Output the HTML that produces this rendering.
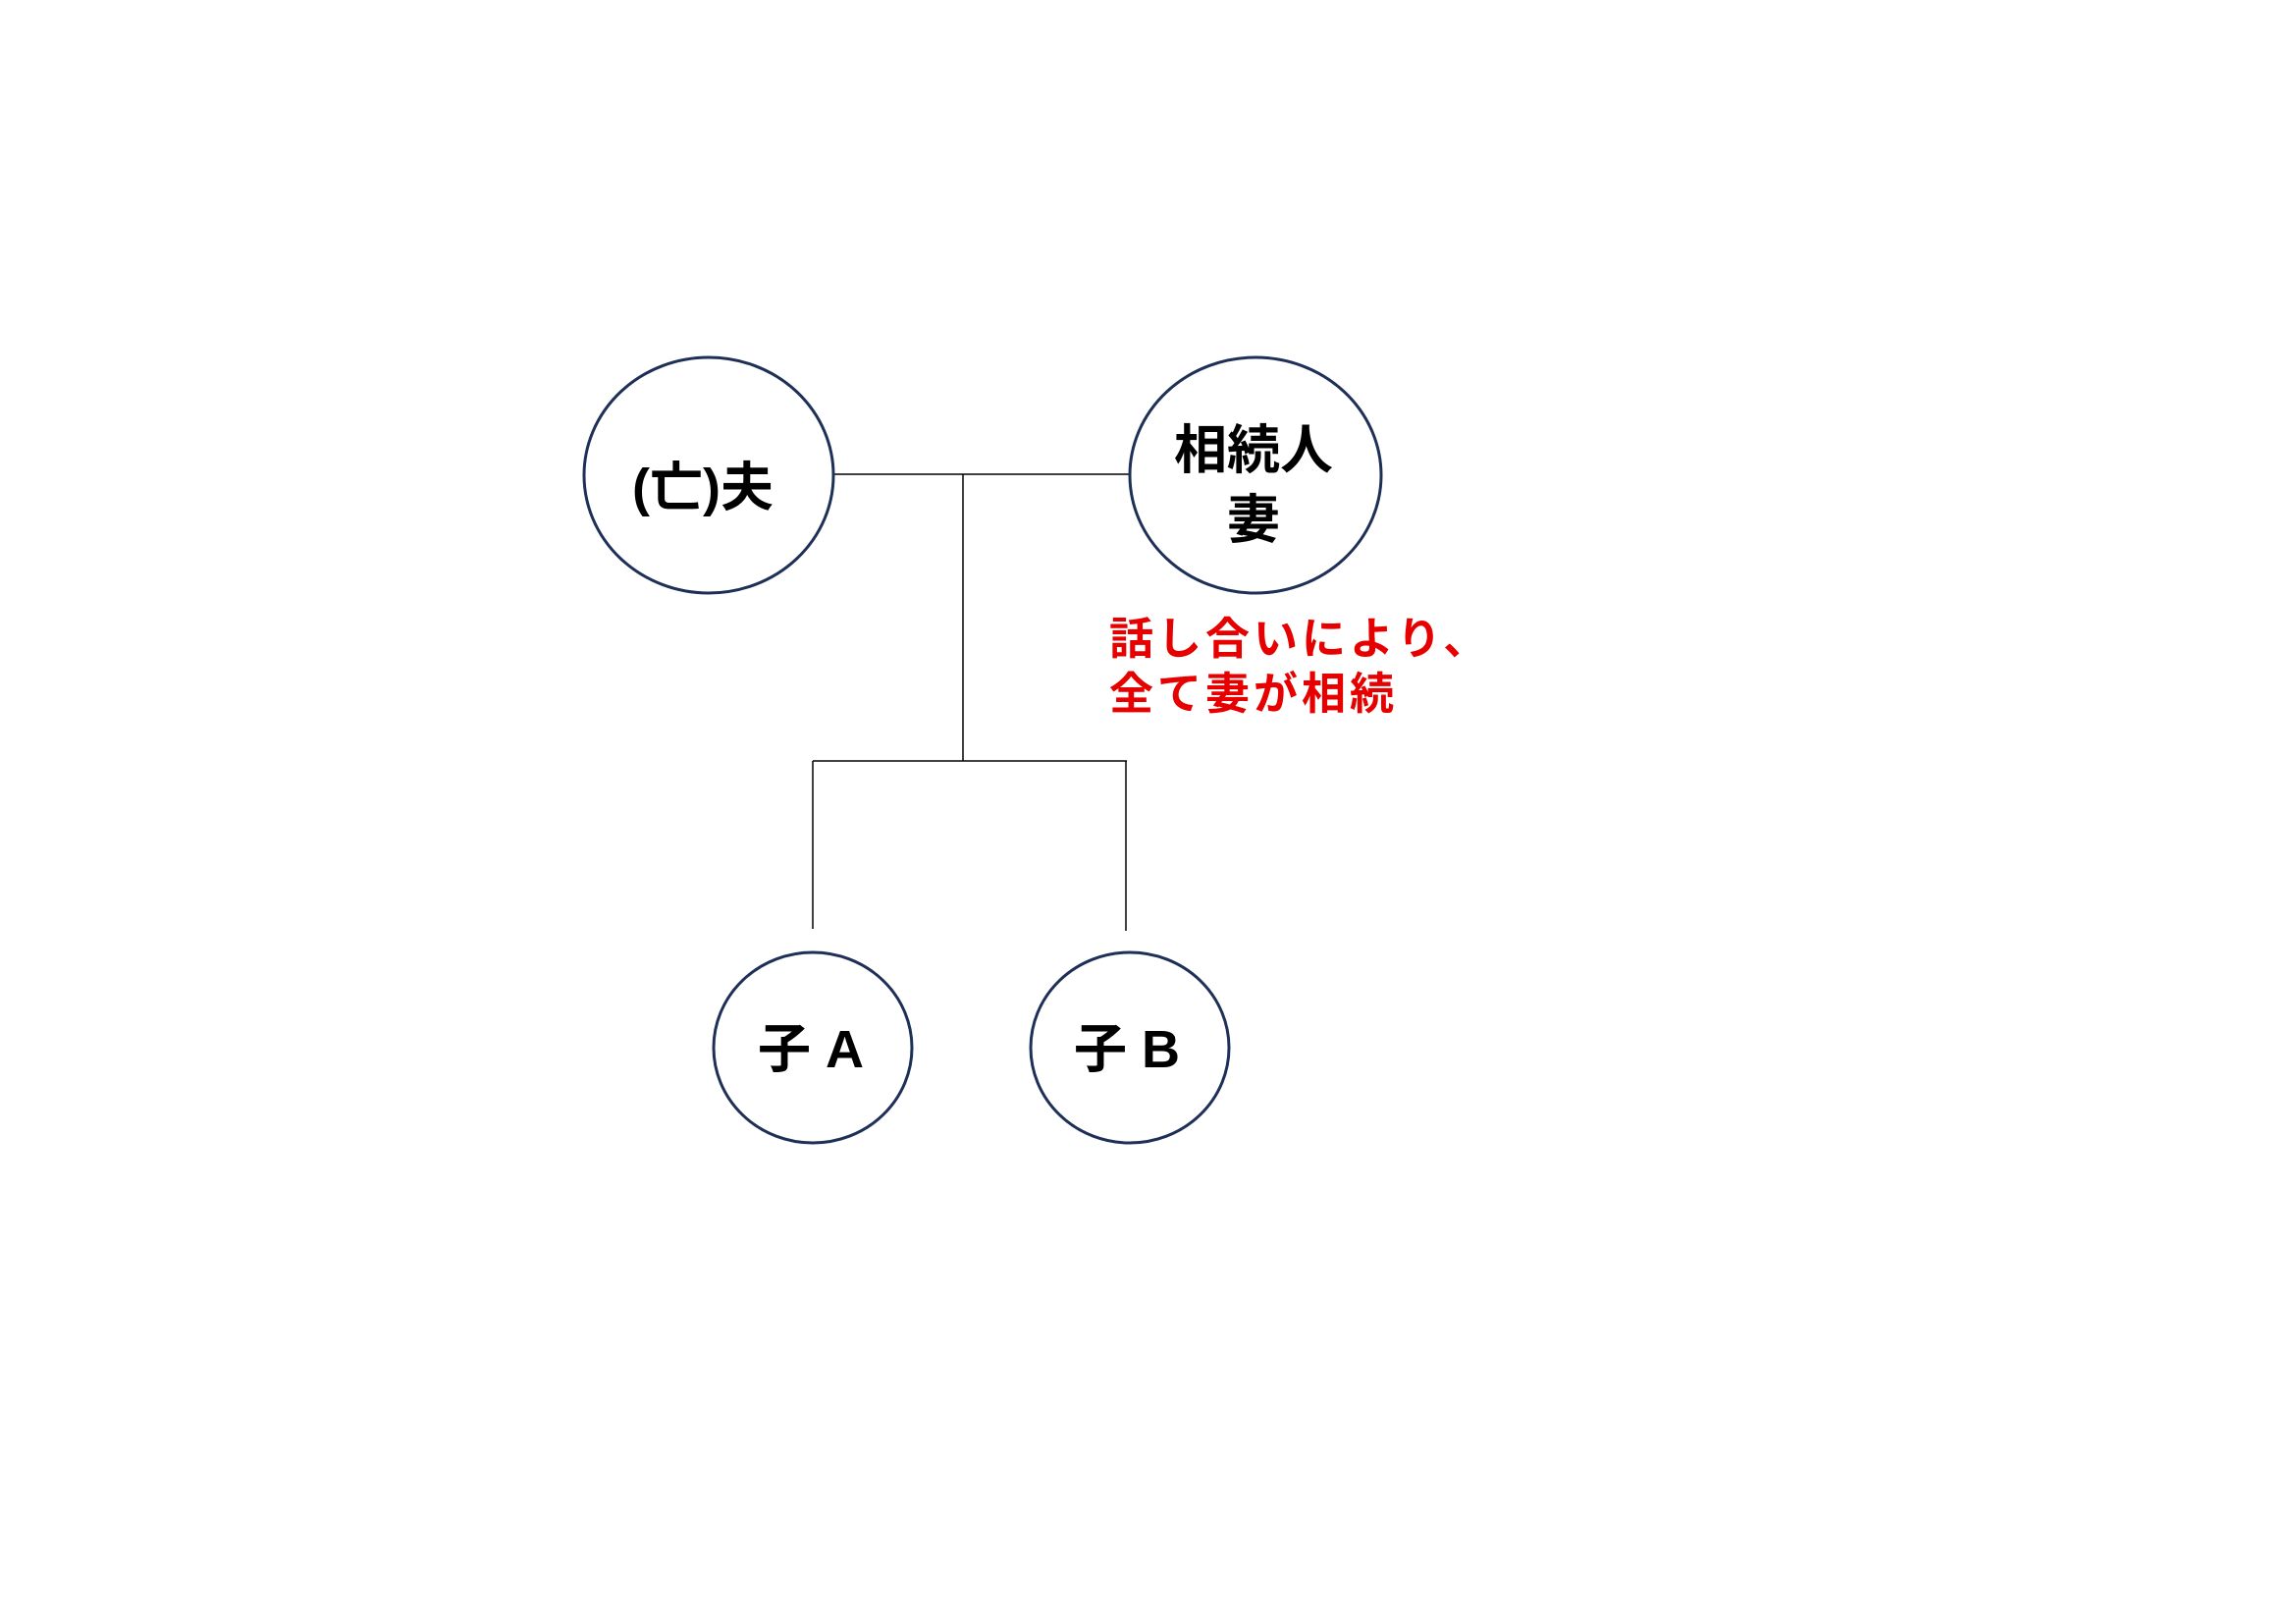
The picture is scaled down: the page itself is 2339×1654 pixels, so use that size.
<!DOCTYPE html>
<html><head><meta charset="utf-8"><style>
html,body{margin:0;padding:0;background:#fff;}
body{width:2339px;height:1654px;position:relative;overflow:hidden;}
svg{position:absolute;left:0;top:0;}
text{font-family:"Liberation Sans","Noto Sans CJK JP",sans-serif;font-weight:bold;}
</style></head><body>
<svg width="2339" height="1654" viewBox="0 0 2339 1654">
<g stroke="#000" stroke-width="1.5" fill="none">
<line x1="850" y1="483" x2="1150" y2="483"/>
<line x1="981" y1="483" x2="981" y2="775"/>
<line x1="828" y1="775" x2="1148" y2="775"/>
<line x1="828" y1="775" x2="828" y2="946"/>
<line x1="1147" y1="775" x2="1147" y2="948"/>
</g>
<g stroke="#1f3058" stroke-width="3" fill="#fff">
<ellipse cx="722" cy="484" rx="127" ry="120"/>
<ellipse cx="1279" cy="484" rx="128" ry="120"/>
<ellipse cx="828" cy="1067" rx="101" ry="97"/>
<ellipse cx="1151" cy="1067" rx="101" ry="97"/>
</g>
<g fill="#000" font-size="54" text-anchor="middle">
<text x="716" y="515">(亡)夫</text>
<text x="1277" y="477">相続人</text>
<text x="1277" y="548">妻</text>
<text x="826" y="1087">子 A</text>
<text x="1148" y="1087">子 B</text>
</g>
<g fill="#e60000" font-size="45">
<text x="1130" y="666" letter-spacing="4">話し合いにより、</text>
<text x="1130" y="722" letter-spacing="4">全て妻が相続</text>
</g>
</svg>
</body></html>
